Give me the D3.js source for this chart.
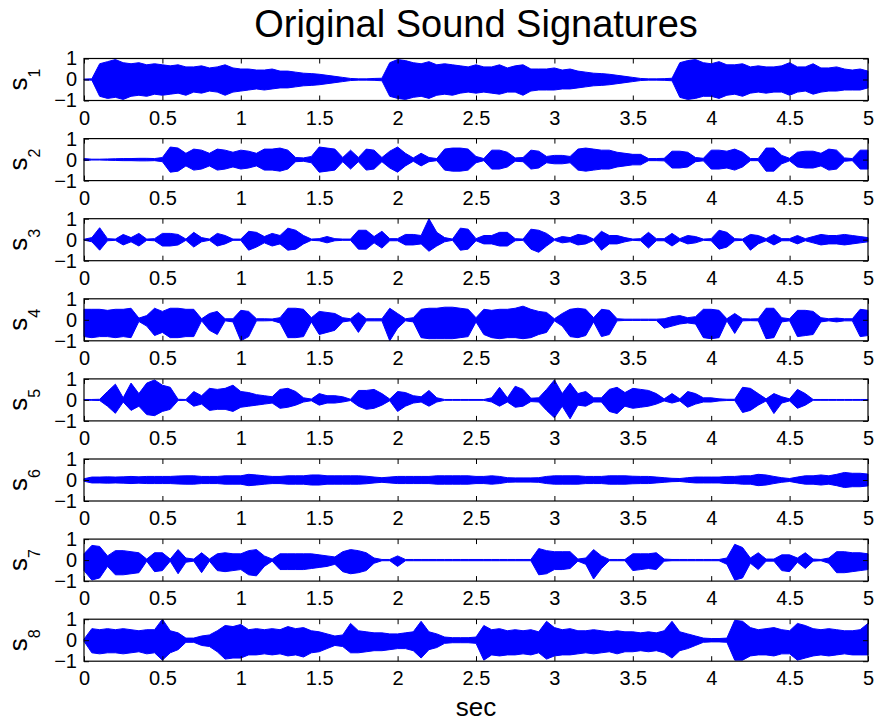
<!DOCTYPE html>
<html>
<head>
<meta charset="utf-8">
<script src="https://cdn.jsdelivr.net/npm/d3@7"></script>
<style>
  body { margin: 0; background: #fff; }
  text { font-family: "Liberation Sans", Arial, Helvetica, sans-serif; fill: #000; }
</style>
</head>
<body>
<svg id="chart" width="876" height="721"></svg>
<script>
// envelope of each signal, sampled every 0.05 s from 0 to 5 s (101 samples)
const sampleStep = 0.05;
const xTicks = [0, 0.5, 1, 1.5, 2, 2.5, 3, 3.5, 4, 4.5, 5];
const yTicks = [-1, 0, 1];
const chartTitle = "Original Sound Signatures";
const xLabel = "sec";

const s1Hi = [0.02,0.03,0.75,0.85,0.95,0.8,0.75,0.8,0.7,0.75,
  0.7,0.65,0.7,0.6,0.6,0.65,0.55,0.6,0.7,0.55,
  0.5,0.5,0.45,0.45,0.5,0.4,0.4,0.35,0.3,0.28,
  0.25,0.2,0.15,0.1,0.05,0.03,0.03,0.05,0.06,0.8,
  0.95,0.9,0.8,0.75,0.85,0.7,0.75,0.7,0.65,0.6,
  0.7,0.6,0.6,0.7,0.55,0.65,0.7,0.5,0.5,0.5,
  0.55,0.45,0.5,0.4,0.35,0.3,0.28,0.25,0.2,0.15,
  0.1,0.05,0.03,0.03,0.04,0.06,0.8,0.9,0.95,0.8,
  0.75,0.85,0.7,0.7,0.75,0.6,0.65,0.6,0.6,0.65,
  0.8,0.6,0.6,0.75,0.55,0.55,0.6,0.5,0.45,0.5,
  0.4];
const s1Lo = [-0.02,-0.03,-0.8,-0.9,-0.85,-0.95,-0.8,-0.75,-0.8,-0.7,
  -0.75,-0.7,-0.65,-0.75,-0.6,-0.65,-0.55,-0.6,-0.75,-0.6,
  -0.55,-0.5,-0.45,-0.5,-0.45,-0.4,-0.4,-0.35,-0.3,-0.28,
  -0.25,-0.2,-0.15,-0.1,-0.05,-0.03,-0.03,-0.04,-0.06,-0.8,
  -0.9,-0.95,-0.85,-0.8,-0.9,-0.75,-0.7,-0.75,-0.65,-0.6,
  -0.65,-0.6,-0.65,-0.7,-0.6,-0.6,-0.75,-0.55,-0.5,-0.5,
  -0.5,-0.45,-0.45,-0.4,-0.35,-0.3,-0.28,-0.25,-0.2,-0.15,
  -0.1,-0.05,-0.03,-0.03,-0.04,-0.06,-0.85,-0.95,-0.9,-0.8,
  -0.8,-0.9,-0.75,-0.7,-0.8,-0.65,-0.6,-0.65,-0.6,-0.6,
  -0.75,-0.6,-0.55,-0.7,-0.6,-0.55,-0.55,-0.5,-0.5,-0.5,
  -0.4];

const s2Amp = [0.05,0.02,0.02,0.03,0.04,0.05,0.05,0.06,0.06,0.05,
  0.1,0.6,0.55,0.3,0.5,0.45,0.3,0.5,0.45,0.35,
  0.45,0.4,0.3,0.5,0.5,0.55,0.45,0.1,0.08,0.15,
  0.6,0.55,0.5,0.1,0.45,0.1,0.5,0.45,0.1,0.4,
  0.6,0.3,0.08,0.3,0.1,0.05,0.5,0.55,0.55,0.5,
  0.15,0.05,0.45,0.45,0.35,0.08,0.1,0.45,0.4,0.15,
  0.2,0.2,0.15,0.5,0.55,0.5,0.45,0.45,0.35,0.3,
  0.25,0.25,0.05,0.05,0.06,0.4,0.4,0.35,0.1,0.06,
  0.45,0.45,0.4,0.5,0.35,0.05,0.05,0.55,0.55,0.2,
  0.06,0.35,0.4,0.4,0.3,0.5,0.45,0.08,0.05,0.45,
  0.45];

const s3Hi = [0.02,0.1,0.57,0.05,0.03,0.25,0.1,0.3,0.03,0.05,
  0.3,0.3,0.25,0.03,0.35,0.1,0.03,0.3,0.2,0.03,
  0.03,0.4,0.35,0.15,0.3,0.2,0.55,0.45,0.2,0.03,
  0.05,0.15,0.05,0.03,0.03,0.45,0.45,0.15,0.4,0.05,
  0.05,0.25,0.25,0.2,1.0,0.35,0.1,0.03,0.55,0.5,
  0.05,0.2,0.2,0.35,0.35,0.05,0.03,0.5,0.45,0.3,
  0.03,0.15,0.1,0.25,0.2,0.03,0.4,0.2,0.2,0.1,
  0.03,0.05,0.35,0.05,0.05,0.3,0.05,0.2,0.15,0.03,
  0.05,0.45,0.35,0.05,0.03,0.25,0.2,0.05,0.25,0.05,
  0.05,0.2,0.05,0.15,0.25,0.2,0.2,0.25,0.2,0.15,
  0.1];
const s3Lo = [-0.02,-0.1,-0.5,-0.05,-0.03,-0.25,-0.1,-0.3,-0.03,-0.05,
  -0.3,-0.3,-0.25,-0.03,-0.35,-0.1,-0.03,-0.3,-0.2,-0.03,
  -0.03,-0.5,-0.35,-0.15,-0.3,-0.2,-0.5,-0.45,-0.2,-0.03,
  -0.05,-0.15,-0.05,-0.03,-0.03,-0.45,-0.45,-0.15,-0.4,-0.05,
  -0.05,-0.25,-0.25,-0.2,-0.55,-0.3,-0.1,-0.03,-0.5,-0.45,
  -0.05,-0.2,-0.2,-0.3,-0.3,-0.05,-0.03,-0.45,-0.6,-0.3,
  -0.03,-0.15,-0.1,-0.25,-0.2,-0.03,-0.5,-0.2,-0.2,-0.1,
  -0.03,-0.05,-0.4,-0.05,-0.05,-0.3,-0.05,-0.2,-0.15,-0.03,
  -0.05,-0.45,-0.35,-0.05,-0.03,-0.5,-0.2,-0.05,-0.25,-0.05,
  -0.05,-0.2,-0.05,-0.15,-0.25,-0.2,-0.2,-0.25,-0.2,-0.15,
  -0.1];

const s4Hi = [0.5,0.5,0.5,0.45,0.5,0.5,0.55,0.08,0.2,0.55,
  0.4,0.55,0.55,0.5,0.5,0.05,0.3,0.4,0.05,0.05,
  0.45,0.4,0.05,0.05,0.04,0.1,0.55,0.55,0.5,0.1,
  0.4,0.35,0.3,0.1,0.05,0.35,0.05,0.05,0.05,0.55,
  0.3,0.05,0.1,0.5,0.55,0.55,0.6,0.6,0.55,0.5,
  0.1,0.5,0.45,0.5,0.5,0.55,0.65,0.5,0.4,0.35,
  0.05,0.3,0.5,0.55,0.5,0.1,0.5,0.45,0.05,0.03,
  0.03,0.03,0.03,0.03,0.05,0.15,0.2,0.1,0.15,0.5,
  0.5,0.45,0.05,0.3,0.05,0.04,0.05,0.55,0.55,0.1,
  0.05,0.45,0.45,0.4,0.1,0.05,0.08,0.05,0.05,0.5,
  0.45];
const s4Lo = [-0.8,-0.85,-0.8,-0.8,-0.85,-0.8,-0.85,-0.08,-0.3,-0.75,
  -0.6,-0.85,-0.85,-0.8,-0.8,-0.05,-0.5,-0.7,-0.05,-0.1,
  -1.0,-0.8,-0.05,-0.05,-0.04,-0.15,-0.85,-0.85,-0.8,-0.1,
  -0.7,-0.6,-0.5,-0.1,-0.05,-0.6,-0.05,-0.05,-0.05,-1.0,
  -0.4,-0.05,-0.1,-0.85,-0.9,-0.9,-0.9,-0.9,-0.85,-0.8,
  -0.1,-0.7,-0.85,-0.9,-0.85,-0.85,-0.9,-0.85,-0.7,-0.6,
  -0.05,-0.3,-0.8,-0.85,-0.75,-0.1,-0.8,-0.7,-0.05,-0.03,
  -0.03,-0.03,-0.03,-0.03,-0.4,-0.3,-0.2,-0.15,-0.2,-0.85,
  -0.9,-0.85,-0.05,-0.65,-0.05,-0.04,-0.05,-0.9,-0.85,-0.1,
  -0.05,-0.8,-0.75,-0.7,-0.1,-0.05,-0.1,-0.05,-0.05,-0.8,
  -0.75];

const s5Hi = [0.02,0.02,0.03,0.4,0.75,0.1,0.8,0.3,0.8,0.95,
  0.7,0.6,0.03,0.02,0.4,0.2,0.55,0.5,0.55,0.7,
  0.4,0.35,0.25,0.2,0.15,0.5,0.55,0.4,0.1,0.04,
  0.3,0.2,0.2,0.15,0.03,0.45,0.45,0.5,0.3,0.04,
  0.4,0.35,0.2,0.15,0.45,0.1,0.02,0.02,0.02,0.02,
  0.02,0.02,0.1,0.6,0.1,0.65,0.5,0.08,0.1,0.5,
  0.95,0.3,0.8,0.3,0.4,0.1,0.1,0.5,0.6,0.35,
  0.55,0.5,0.45,0.3,0.05,0.3,0.05,0.4,0.3,0.1,
  0.1,0.05,0.03,0.03,0.6,0.55,0.3,0.05,0.3,0.15,
  0.05,0.5,0.3,0.02,0.02,0.02,0.02,0.02,0.02,0.02,
  0.02];
const s5Lo = [-0.02,-0.02,-0.03,-0.3,-0.64,-0.1,-0.5,-0.3,-0.7,-0.75,
  -0.55,-0.45,-0.03,-0.02,-0.3,-0.2,-0.5,-0.45,-0.45,-0.55,
  -0.35,-0.3,-0.25,-0.2,-0.15,-0.4,-0.35,-0.25,-0.1,-0.04,
  -0.25,-0.15,-0.15,-0.1,-0.03,-0.3,-0.45,-0.4,-0.25,-0.04,
  -0.55,-0.3,-0.15,-0.1,-0.3,-0.1,-0.02,-0.02,-0.02,-0.02,
  -0.02,-0.02,-0.1,-0.3,-0.1,-0.35,-0.3,-0.08,-0.1,-0.5,
  -0.85,-0.3,-0.9,-0.25,-0.3,-0.1,-0.1,-0.55,-0.65,-0.3,
  -0.4,-0.35,-0.3,-0.2,-0.05,-0.15,-0.05,-0.35,-0.2,-0.1,
  -0.1,-0.05,-0.03,-0.03,-0.6,-0.5,-0.25,-0.05,-0.65,-0.15,
  -0.05,-0.4,-0.25,-0.02,-0.02,-0.02,-0.02,-0.02,-0.02,-0.02,
  -0.02];

const s6Amp = [0.06,0.14,0.14,0.15,0.14,0.15,0.17,0.15,0.17,0.17,
  0.17,0.17,0.19,0.2,0.2,0.17,0.17,0.17,0.2,0.2,
  0.2,0.27,0.24,0.2,0.17,0.17,0.2,0.2,0.2,0.24,
  0.24,0.2,0.2,0.2,0.2,0.2,0.18,0.14,0.11,0.14,
  0.17,0.17,0.17,0.17,0.17,0.2,0.2,0.2,0.2,0.2,
  0.17,0.17,0.2,0.17,0.11,0.1,0.1,0.1,0.11,0.17,
  0.2,0.2,0.2,0.2,0.17,0.17,0.17,0.2,0.2,0.2,
  0.18,0.17,0.17,0.14,0.11,0.08,0.07,0.11,0.14,0.14,
  0.14,0.14,0.17,0.17,0.2,0.2,0.27,0.24,0.17,0.11,
  0.07,0.14,0.2,0.2,0.24,0.2,0.27,0.36,0.32,0.32,
  0.28];

const s7Hi = [0.3,0.7,0.65,0.2,0.45,0.45,0.4,0.35,0.05,0.35,
  0.35,0.05,0.5,0.1,0.05,0.35,0.05,0.3,0.35,0.3,
  0.3,0.45,0.5,0.2,0.05,0.3,0.3,0.3,0.3,0.3,
  0.25,0.2,0.15,0.4,0.5,0.45,0.35,0.1,0.03,0.03,
  0.2,0.03,0.03,0.03,0.03,0.03,0.03,0.03,0.03,0.03,
  0.03,0.03,0.03,0.03,0.03,0.03,0.03,0.03,0.55,0.45,
  0.4,0.4,0.4,0.05,0.1,0.5,0.2,0.03,0.03,0.03,
  0.3,0.3,0.3,0.35,0.05,0.03,0.03,0.03,0.03,0.03,
  0.03,0.03,0.1,0.75,0.6,0.1,0.35,0.05,0.05,0.25,
  0.25,0.1,0.35,0.05,0.03,0.1,0.4,0.4,0.35,0.35,
  0.3];
const s7Lo = [-0.5,-0.95,-0.85,-0.3,-0.7,-0.7,-0.65,-0.6,-0.05,-0.55,
  -0.5,-0.05,-0.65,-0.1,-0.05,-0.6,-0.05,-0.5,-0.55,-0.5,
  -0.45,-0.7,-0.75,-0.3,-0.05,-0.45,-0.45,-0.45,-0.45,-0.4,
  -0.35,-0.3,-0.2,-0.55,-0.65,-0.6,-0.5,-0.15,-0.03,-0.03,
  -0.3,-0.03,-0.03,-0.03,-0.03,-0.03,-0.03,-0.03,-0.03,-0.03,
  -0.03,-0.03,-0.03,-0.03,-0.03,-0.03,-0.03,-0.03,-0.7,-0.65,
  -0.45,-0.45,-0.4,-0.05,-0.2,-0.9,-0.4,-0.03,-0.03,-0.03,
  -0.5,-0.45,-0.4,-0.45,-0.05,-0.03,-0.03,-0.03,-0.03,-0.03,
  -0.03,-0.03,-0.2,-0.95,-0.85,-0.15,-0.45,-0.05,-0.05,-0.5,
  -0.55,-0.1,-0.4,-0.05,-0.03,-0.15,-0.6,-0.6,-0.55,-0.5,
  -0.45];

const s8Hi = [0.05,0.55,0.5,0.55,0.5,0.55,0.5,0.45,0.5,0.5,
  1.0,0.45,0.35,0.1,0.1,0.2,0.25,0.45,0.7,0.65,
  0.75,0.5,0.55,0.5,0.55,0.5,0.65,0.55,0.6,0.45,
  0.4,0.3,0.2,0.25,0.8,0.45,0.4,0.35,0.35,0.3,
  0.3,0.35,0.4,0.9,0.4,0.3,0.15,0.12,0.12,0.12,
  0.15,0.7,0.5,0.55,0.45,0.5,0.45,0.5,0.4,0.9,
  0.6,0.5,0.55,0.45,0.45,0.5,0.45,0.4,0.45,0.4,
  0.4,0.35,0.4,0.35,0.45,0.9,0.4,0.3,0.2,0.1,
  0.08,0.08,0.1,0.95,0.9,0.6,0.5,0.55,0.6,0.5,
  0.45,0.8,0.7,0.55,0.5,0.55,0.5,0.45,0.45,0.5,
  0.8];
const s8Lo = [-0.05,-0.6,-0.65,-0.6,-0.6,-0.65,-0.6,-0.55,-0.65,-0.6,
  -0.95,-0.6,-0.45,-0.1,-0.1,-0.25,-0.3,-0.55,-0.9,-0.85,
  -0.85,-0.7,-0.7,-0.65,-0.7,-0.65,-0.75,-0.7,-0.8,-0.6,
  -0.55,-0.4,-0.25,-0.3,-0.6,-0.6,-0.55,-0.5,-0.5,-0.45,
  -0.4,-0.4,-0.5,-0.85,-0.45,-0.35,-0.15,-0.12,-0.12,-0.12,
  -0.15,-0.95,-0.7,-0.75,-0.7,-0.7,-0.65,-0.7,-0.6,-0.9,
  -0.75,-0.7,-0.7,-0.65,-0.6,-0.65,-0.6,-0.55,-0.65,-0.55,
  -0.55,-0.5,-0.55,-0.5,-0.6,-0.85,-0.5,-0.4,-0.25,-0.1,
  -0.08,-0.08,-0.1,-0.95,-0.95,-0.75,-0.7,-0.7,-0.75,-0.65,
  -0.65,-0.95,-0.85,-0.75,-0.7,-0.75,-0.7,-0.65,-0.7,-0.7,
  -0.7];

// symmetric signals only have an amplitude
const signals = [
  { sub: "1", hi: s1Hi, lo: s1Lo },
  { sub: "2", amp: s2Amp },
  { sub: "3", hi: s3Hi, lo: s3Lo },
  { sub: "4", hi: s4Hi, lo: s4Lo },
  { sub: "5", hi: s5Hi, lo: s5Lo },
  { sub: "6", amp: s6Amp },
  { sub: "7", hi: s7Hi, lo: s7Lo },
  { sub: "8", hi: s8Hi, lo: s8Lo }
];

const svg = d3.select("#chart");
const panelTop = 58.5, panelStep = 80.1, panelH = 42;
const x = d3.scaleLinear().domain([0, 5]).range([84, 868]);

svg.append("text")
  .attr("x", 476).attr("y", 37)
  .attr("text-anchor", "middle")
  .attr("font-size", 38)
  .text(chartTitle);

signals.forEach((s, i) => {
  const top = panelTop + i * panelStep;
  const y = d3.scaleLinear().domain([-1, 1]).range([top + panelH, top]);
  const pts = (s.hi || s.amp).map((v, k) => ({
    t: k * sampleStep,
    hi: v,
    lo: s.lo ? s.lo[k] : -s.amp[k]
  }));

  const g = svg.append("g");

  g.append("path")
    .datum(pts)
    .attr("fill", "#0000ff")
    .attr("stroke", "#0000ff")
    .attr("stroke-width", 1)
    .attr("d", d3.area()
      .x(d => x(d.t))
      .y0(d => y(d.lo))
      .y1(d => y(d.hi)));

  // ticks on all four sides, pointing inward
  const fmt = d3.format("~g");
  g.append("g")
    .attr("transform", "translate(0," + (top + panelH) + ")")
    .call(d3.axisBottom(x).tickValues(xTicks).tickSizeInner(-5).tickSizeOuter(0).tickPadding(10).tickFormat(fmt))
    .call(a => a.select(".domain").remove())
    .call(a => a.selectAll("text").attr("font-size", 20).attr("font-family", null));
  g.append("g")
    .attr("transform", "translate(0," + top + ")")
    .call(d3.axisTop(x).tickValues(xTicks).tickSizeInner(-5).tickSizeOuter(0).tickFormat(""))
    .call(a => a.select(".domain").remove());
  g.append("g")
    .attr("transform", "translate(" + x(0) + ",0)")
    .call(d3.axisLeft(y).tickValues(yTicks).tickSizeInner(-5).tickSizeOuter(0).tickPadding(7).tickFormat(fmt))
    .call(a => a.select(".domain").remove())
    .call(a => a.selectAll("text").attr("font-size", 20).attr("font-family", null));
  g.append("g")
    .attr("transform", "translate(" + x(5) + ",0)")
    .call(d3.axisRight(y).tickValues(yTicks).tickSizeInner(-5).tickSizeOuter(0).tickFormat(""))
    .call(a => a.select(".domain").remove());

  g.append("rect")
    .attr("x", x(0)).attr("y", top)
    .attr("width", x(5) - x(0)).attr("height", panelH)
    .attr("fill", "none").attr("stroke", "#000").attr("stroke-width", 1.2);

  const lab = g.append("text")
    .attr("transform", "translate(27," + (top + panelH / 2) + ") rotate(-90)")
    .attr("text-anchor", "middle")
    .attr("font-size", 26);
  lab.append("tspan").text("s");
  lab.append("tspan").attr("dy", 13).attr("font-size", 16).text(s.sub);
});

svg.append("text")
  .attr("x", 476).attr("y", 716)
  .attr("text-anchor", "middle")
  .attr("font-size", 26)
  .text(xLabel);
</script>
</body>
</html>
